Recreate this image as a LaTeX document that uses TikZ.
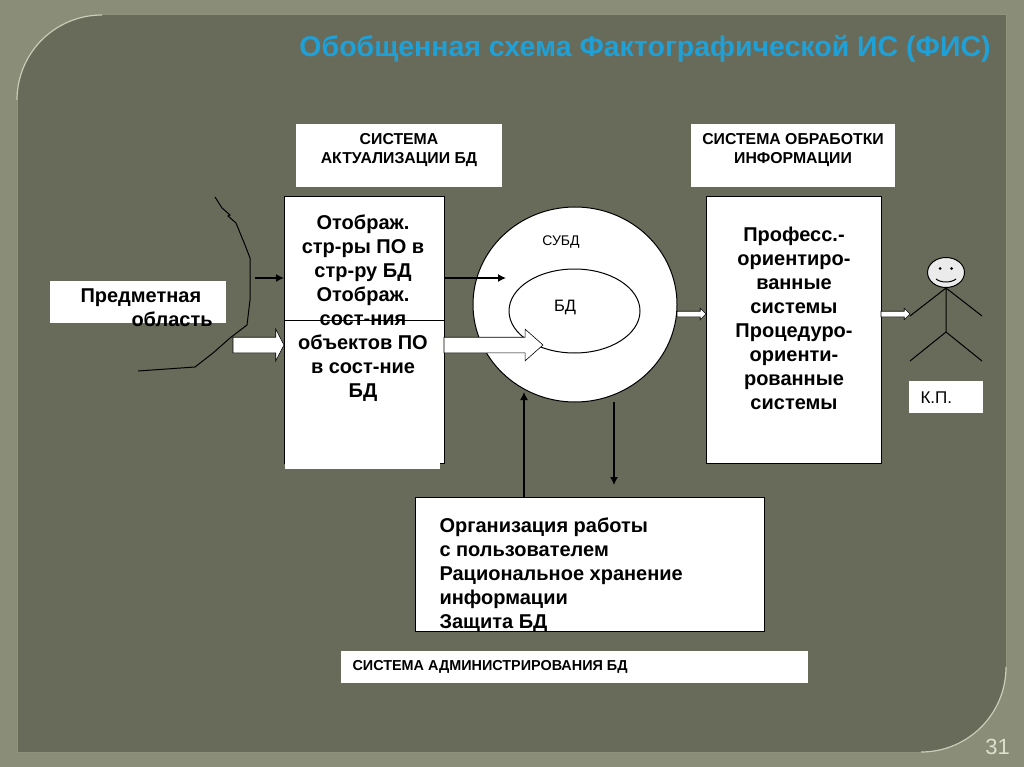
\documentclass[tikz,border=0pt]{standalone}
\usepackage{fontspec}
\setmainfont{Liberation Sans}
\usetikzlibrary{shapes.arrows,shapes.geometric,arrows.meta}
\definecolor{slideback}{HTML}{8A8E78}
\definecolor{panelback}{HTML}{686B5A}
\definecolor{panelrim}{HTML}{C9CCB8}
\definecolor{panelline}{HTML}{8F927D}
\definecolor{titleblue}{HTML}{1FA0D6}
\definecolor{pagenum}{HTML}{DDDFCF}
\begin{document}
\begin{tikzpicture}[x=1pt,y=-1pt,line width=1pt,>={Latex[length=8pt,width=8pt]}]
    \tikzset{lab/.style={fill=white,inner sep=0pt,outer sep=0pt}};
    \tikzset{blk/.style={fill=white,draw=black,inner sep=0pt,outer sep=0pt}};
    \tikzset{capt/.style={align=center,font=\fontsize{15.8}{19}\selectfont\bfseries,inner sep=0pt}};
    \tikzset{txt/.style={align=center,font=\fontsize{20}{24}\selectfont\bfseries,inner sep=0pt}};
    \tikzset{txl/.style={align=left,font=\fontsize{20}{24}\selectfont\bfseries,inner sep=0pt}};
    \tikzset{fat/.style={single arrow,anchor=tip,draw=black,fill=white,line width=0.6pt,inner sep=0pt,outer sep=0pt,text height=15pt,text depth=0pt,text width=0pt,minimum width=31pt,single arrow head extend=8pt}};
    \tikzset{slim/.style={single arrow,anchor=tip,draw=black,fill=white,line width=0.6pt,inner sep=0pt,outer sep=0pt,text height=5pt,text depth=0pt,text width=0pt,minimum width=11pt,single arrow head extend=3pt}};
    \useasboundingbox (0,0) rectangle (1024,767);
    \fill[slideback] (0,0) rectangle (1024,767);
    % panel
    \fill[panelback] (17,100) .. controls (17,53) and (55,15) .. (102,15) -- (1006,15)
      -- (1006,667) .. controls (1006,714) and (968,752) .. (921,752) -- (17,752) -- cycle;
    \draw[panelline] (102,15) -- (1006,15) -- (1006,667) (921,752) -- (17,752) -- (17,100);
    \draw[panelrim,line width=1.2pt] (17,100) .. controls (17,53) and (55,15) .. (102,15);
    \draw[panelrim,line width=1.2pt] (1006,667) .. controls (1006,714) and (968,752) .. (921,752);
    \node[font=\fontsize{28.5}{30}\selectfont\bfseries,text=titleblue,inner sep=0pt] (sTitle) at (645,48.5) {Обобщенная схема Фактографической ИС (ФИС)};
    \node[font=\fontsize{22}{24}\selectfont,text=pagenum,inner sep=0pt] (sPage) at (997.5,747) {31};
    % captions
    \node[lab,minimum width=206pt,minimum height=63pt] (sAkt) at (399,155.5) {};
    \node[capt] (tAkt) at (399,150.5) {СИСТЕМА\\АКТУАЛИЗАЦИИ БД};
    \node[lab,minimum width=204pt,minimum height=63pt] (sObr) at (793,155.5) {};
    \node[capt] (tObr) at (793,150.5) {СИСТЕМА ОБРАБОТКИ\\ИНФОРМАЦИИ};
    \node[lab,minimum width=176pt,minimum height=42pt] (sObl) at (138,302) {};
    \node[lab,minimum width=467pt,minimum height=32pt] (sAdm) at (574.5,667) {};
    \node[capt,font=\fontsize{14.4}{16}\selectfont\bfseries,anchor=west] (tAdm) at (352,666.5) {СИСТЕМА АДМИНИСТРИРОВАНИЯ БД};
    \node[lab,minimum width=74pt,minimum height=32pt] (sKP) at (946,397) {};
    \node[font=\fontsize{17}{18}\selectfont,inner sep=0pt,anchor=west] (tKP) at (920,398) {К.П.};
    % boundary of the subject area
    \draw (215,197) -- (222,208) -- (230,215) -- (228,216) -- (236,223) -- (245,245) -- (250,258) -- (250,300)
      -- (247,325) -- (230,338) -- (213,353) -- (195,367) -- (138,371);
    \node[txl,anchor=west] (tObl1) at (80,297.5) {Предметная};
    \node[txl,anchor=west] (tObl2) at (131,319.5) {область};
    % boxes
    \node[blk,minimum width=160pt,minimum height=266pt] (sMap) at (364,330) {};
    \node[lab,minimum width=155pt,minimum height=29pt] (sLow) at (362.5,454.5) {};
    \coordinate (sMid) at (364,320);
    \draw (sMid -| sMap.west) -- (sMid -| sMap.east);
    \node[txt] (tMap) at (363,308) {Отображ.\\стр-ры ПО в\\стр-ру БД\\Отображ.\\сост-ния\\объектов ПО\\в сост-ние\\БД};
    \node[ellipse,blk,minimum width=204pt,minimum height=195pt] (sSubd) at (575,304.5) {};
    \node[ellipse,blk,minimum width=131pt,minimum height=84pt] (sBd) at (574.5,311) {};
    \node[font=\fontsize{14}{16}\selectfont,inner sep=0pt] (tSubd) at (561,242) {СУБД};
    \node[font=\fontsize{16.5}{18}\selectfont,inner sep=0pt] (tBd) at (565,307.5) {БД};
    \node[blk,minimum width=175pt,minimum height=266pt] (sProc) at (793.5,330) {};
    \node[txt] (tProc) at (794,318.5) {Професс.-\\ориентиро-\\ванные\\системы\\Процедуро-\\ориенти-\\рованные\\системы};
    \node[blk,minimum width=349pt,minimum height=134pt] (sOrg) at (589.5,564) {};
    \node[txl,anchor=west] (tOrg) at (439,575) {Организация работы\\с пользователем\\Рациональное хранение\\информации\\Защита БД};
    % fat arrows
    \node[fat,minimum height=51pt,single arrow tip angle=125] (aIn) at (284,345) {};
    \node[fat,minimum height=99pt,single arrow tip angle=83] (aOut) at (543,345) {};
    \node[slim,minimum height=29pt,single arrow tip angle=90] (aRight) at (706,314) {};
    \node[slim,minimum height=29pt,single arrow tip angle=90] (aUser) at (910,314) {};
    % links
    \coordinate (cIn) at (255,278);
    \coordinate (cOut) at (506,278);
    \coordinate (cUp) at (524,392);
    \coordinate (cDown) at (614,485);
    {
      \path[->,line width=1.3pt]
        (cIn) edge (cIn -| sMap.west)
        (cOut -| sMap.east) edge (cOut)
        (cUp |- sOrg.north) edge (cUp)
        (cDown |- sSubd.south) edge (cDown)
        ;
    }
    % user
    \node[ellipse,draw=black,fill=white!92!black,inner sep=0pt,minimum width=37pt,minimum height=30pt] (sHead) at (946,272.5) {};
    \fill (940,268.5) circle (1.5pt) (951.5,268.5) circle (1.5pt);
    \draw (936,279) .. controls (941,283) and (951,283) .. (956,279);
    \coordinate (cHip) at (946,332);
    \coordinate (cHandL) at (910,316);
    \coordinate (cHandR) at (982,316);
    \coordinate (cFootL) at (910,361);
    \coordinate (cFootR) at (982,361);
    \draw (sHead.south) -- (cHip) (sHead.south) -- (cHandL) (sHead.south) -- (cHandR) (cHip) -- (cFootL) (cHip) -- (cFootR);
\end{tikzpicture}
\end{document}
